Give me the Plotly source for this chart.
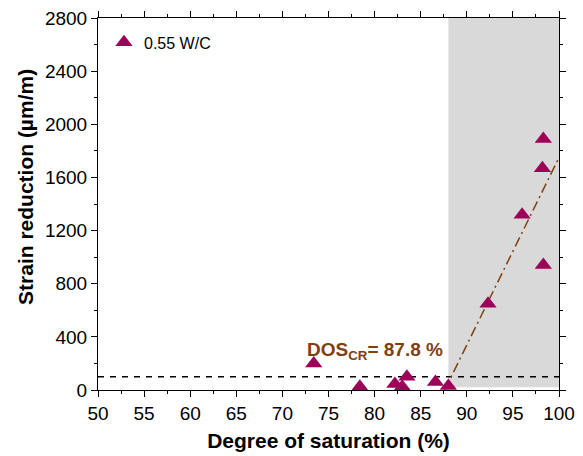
import plotly.graph_objects as go

dos = [73.4, 78.4, 82.2, 83.0, 83.5, 86.6, 88.0, 92.3, 96.0, 98.2, 98.3, 98.3]
strain = [200, 25, 45, 25, 100, 60, 30, 650, 1320, 1670, 1890, 940]

fit_x = [87.6, 100]
fit_y = [0, 1750]
thr_x = [50, 100]
thr_y = [100, 100]
shade_x = [88, 100]
shade_y = [20, 2800]

marker_color = "#9e0059"
brown = "#7f4010"
font = "Liberation Sans, Arial, sans-serif"

fig = go.Figure()
fig.add_shape(type="rect", x0=shade_x[0], x1=shade_x[1], y0=shade_y[0], y1=shade_y[1],
              fillcolor="#d9d9d9", line_width=0, layer="below")
fig.add_trace(go.Scatter(x=thr_x, y=thr_y, mode="lines",
                         line=dict(color="black", width=1.5, dash="6px,6px"), showlegend=False))
fig.add_trace(go.Scatter(x=fit_x, y=fit_y, mode="lines",
                         line=dict(color=brown, width=1.5, dash="10px,4px,2px,4px"), showlegend=False))
fig.add_trace(go.Scatter(x=dos, y=strain, mode="markers", name="0.55 W/C",
                         marker=dict(symbol="triangle-up", size=15, color=marker_color)))
fig.add_annotation(x=80.0, y=293, text="<b>DOS<sub>CR</sub>= 87.8 %</b>", showarrow=False,
                   font=dict(family=font, size=19, color=brown))
fig.add_annotation(xref="paper", yref="paper", x=-0.156, y=0.546, textangle=-90,
                   text="<b>Strain reduction (µm/m)</b>", showarrow=False,
                   xanchor="center", yanchor="middle",
                   font=dict(family=font, size=21, color="black"))

axis_common = dict(showline=True, linecolor="black", linewidth=1, mirror="ticks",
                   ticks="outside", ticklen=6, tickcolor="black", showgrid=False, zeroline=False,
                   automargin=False, ticklabeloverflow="allow",
                   tickfont=dict(family=font, size=19, color="black"))
fig.update_xaxes(range=[50, 100], dtick=5, tick0=50,
                 minor=dict(ticks="outside", ticklen=3, dtick=2.5, tickcolor="black"),
                 title=dict(text="<b>Degree of saturation (%)</b>", font=dict(family=font, size=21, color="black"), standoff=10),
                 **axis_common)
fig.update_yaxes(range=[0, 2800], dtick=400, tick0=0,
                 minor=dict(ticks="outside", ticklen=3, dtick=200, tickcolor="black"),
                 **axis_common)
fig.update_layout(width=583, height=456, plot_bgcolor="white", paper_bgcolor="white",
                  margin=dict(l=90, r=32, t=10, b=74),
                  legend=dict(x=0.013, y=0.98, xanchor="left", yanchor="top", bgcolor="rgba(0,0,0,0)",
                              font=dict(family=font, size=16, color="black")),
                  font=dict(family=font))
fig.write_html("out.html")
